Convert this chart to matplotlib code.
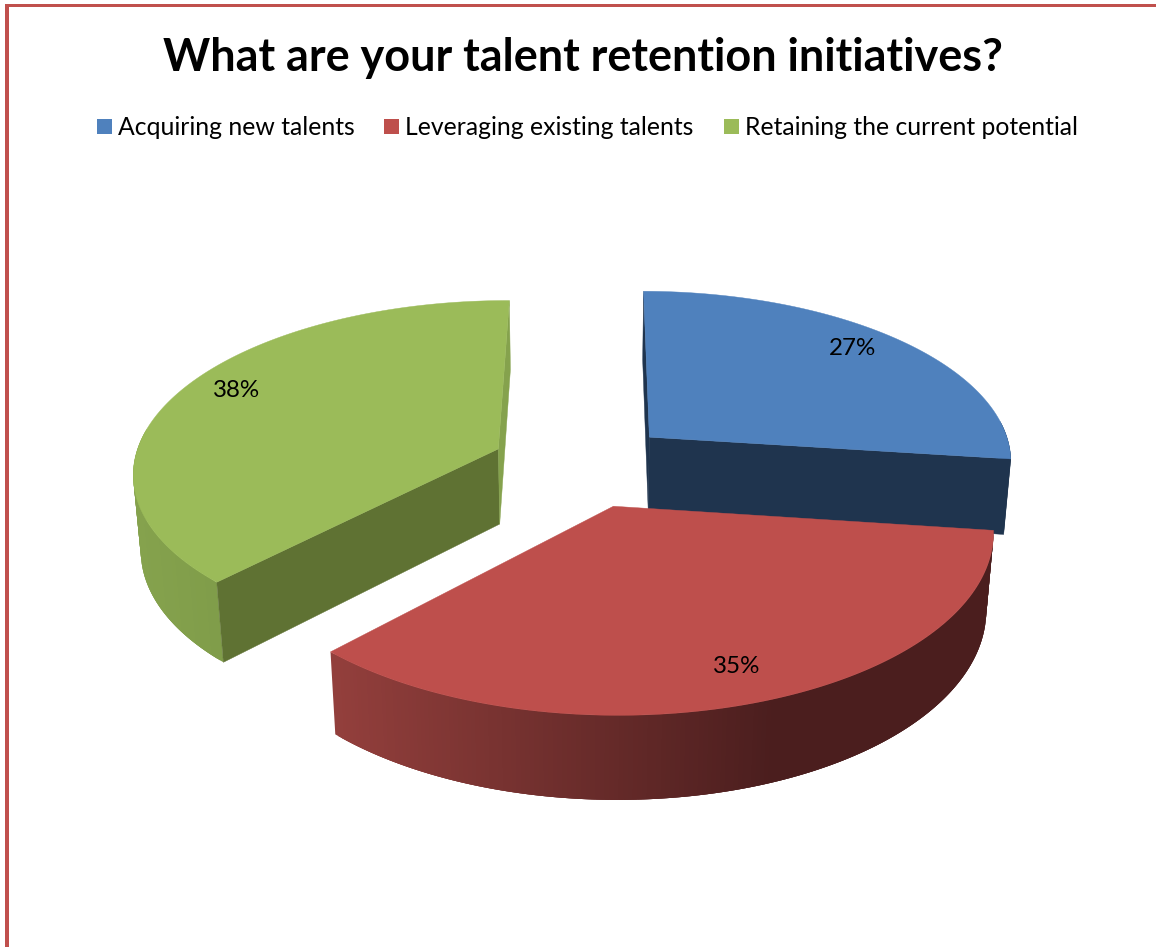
import matplotlib
matplotlib.use('Agg')
import matplotlib.pyplot as plt
from matplotlib.patches import Rectangle
import numpy as np

plt.rcParams['font.family'] = ['Lato', 'DejaVu Sans']

title = 'What are your talent retention initiatives?'
categories = ['Acquiring new talents', 'Leveraging existing talents', 'Retaining the current potential']
values = [27, 35, 38]

top_colors = ['#4f81bd', '#be4f4c', '#9bbb59']
# cut faces: the one at the start of a slice's sweep, the one at its end
start_cut_colors = ['#1f344e', '#4b1e1e', '#5f7233']
end_cut_colors = ['#1f344e', '#4b1e1e', '#85a24d']

# camera for the tilted pie, in pixels
cx, cy = 582, 464.7
a, b = 365, 171
persp = 0.127
depth = 77
shrink = 0.017
explode = 0.25
first_angle = np.radians(0.3)


def project(X, Y, d=0.0):
    w = 1 + persp * Y + shrink * d
    return cx + a * X / w, cy - (b * Y - depth * d) / w


def mix(c1, c2, t):
    c1 = np.array(matplotlib.colors.to_rgb(c1))
    c2 = np.array(matplotlib.colors.to_rgb(c2))
    return tuple(c1 + (c2 - c1) * t)


def rim_color(i, sx):
    if i == 1:
        return mix('#933f3c', '#4b1e1e', np.clip((sx - 330) / 440, 0, 1))
    if i == 2:
        return mix('#85a24d', '#7f9c49', np.clip((sx - 135) / 90, 0, 1))
    return start_cut_colors[0]


fig = plt.figure(figsize=(11.56, 9.47), dpi=100)
ax = fig.add_axes([0, 0, 1, 1])
ax.set_xlim(0, 1156)
ax.set_ylim(947, 0)
ax.axis('off')

# page border on the left and top
ax.add_patch(Rectangle((4.5, 4), 4.5, 943, color='#c0504d', lw=0))
ax.add_patch(Rectangle((4.5, 4), 1152, 3, color='#c0504d', lw=0))

ax.text(582.5, 57.5, title, ha='center', va='center', fontsize=32.4, fontweight='bold', color='black')

# legend row
legend_x = [97, 384, 724]
for i in range(3):
    ax.add_patch(Rectangle((legend_x[i], 119), 15, 15, color=top_colors[i], lw=0))
    ax.text(legend_x[i] + 21, 127, categories[i], ha='left', va='center', fontsize=17.85, color='black')

# slices clockwise from twelve o'clock
fractions = np.array(values) / sum(values)
edges = first_angle + np.concatenate([[0], np.cumsum(fractions)]) * 2 * np.pi
for i in range(3):
    t0, t1 = edges[i], edges[i + 1]
    mid = (t0 + t1) / 2
    ox, oy = explode * np.sin(mid), explode * np.cos(mid)
    ts = np.linspace(t0, t1, 200)
    rx, ry = ox + np.sin(ts), oy + np.cos(ts)

    # outer wall on the near side, strips overlap so no seams show
    for j in range(len(ts) - 3):
        if np.cos(ts[j]) > 0.1:
            continue
        x0, y0 = project(rx[j], ry[j])
        x1, y1 = project(rx[j + 3], ry[j + 3])
        x2, y2 = project(rx[j + 3], ry[j + 3], 1)
        x3, y3 = project(rx[j], ry[j], 1)
        col = rim_color(i, (x0 + x1) / 2)
        ax.fill([x0, x1, x2, x3], [y0, y1, y2, y3], color=col, lw=0)

    # the two cut faces, the red ones are hidden behind its own top
    if i != 1:
        for k, col in [(0, start_cut_colors[i]), (-1, end_cut_colors[i])]:
            fx, fy = [], []
            for X, Y, d in [(ox, oy, 0), (rx[k], ry[k], 0), (rx[k], ry[k], 1), (ox, oy, 1)]:
                px, py = project(X, Y, d)
                fx.append(px)
                fy.append(py)
            ax.fill(fx, fy, color=col, lw=0.3)

    # top surface
    px, py = project(np.concatenate([[ox], rx]), np.concatenate([[oy], ry]))
    ax.fill(px, py, color=top_colors[i], lw=0.3)

label_pos = [(852.5, 348), (736.5, 666), (236.5, 390)]
for i in range(3):
    ax.text(label_pos[i][0], label_pos[i][1], str(values[i]) + '%', ha='center', va='center', fontsize=17.4, color='black')

fig.savefig('out.png', dpi=100)
